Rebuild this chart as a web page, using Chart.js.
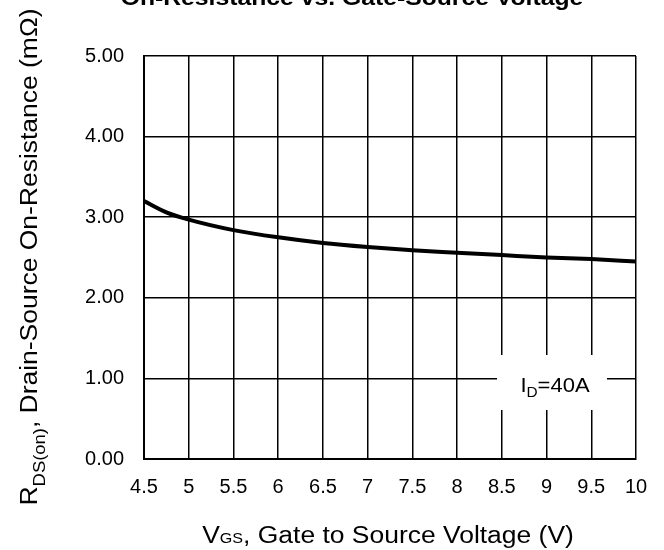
<!DOCTYPE html>
<html>
<head>
<meta charset="utf-8">
<script src="https://cdn.jsdelivr.net/npm/chart.js@4"></script>
<style>
  html, body { margin: 0; padding: 0; background: #fff; }
  canvas { display: block; }
</style>
</head>
<body>
<canvas id="rds-chart" width="664" height="550"></canvas>
<script>
// values
const vgsValues = [4.5, 4.75, 5, 5.5, 6, 6.5, 7, 7.5, 8, 8.5, 9, 9.5, 10];
const rdsValues = [3.20, 3.06, 2.97, 2.84, 2.75, 2.68, 2.63, 2.59, 2.56, 2.53, 2.50, 2.48, 2.45];
const xTickLabels = ['4.5', '5', '5.5', '6', '6.5', '7', '7.5', '8', '8.5', '9', '9.5', '10'];
const yTickLabels = ['0.00', '1.00', '2.00', '3.00', '4.00', '5.00'];

const FONT = 'Arial, "Liberation Sans", sans-serif';

// draws a list of [text, size, dy] runs centred on (0,0), stretched by sx
function drawRuns(ctx, runs, sx, weight) {
    weight = weight || '';
    let total = 0;
    runs.forEach(r => {
        ctx.font = weight + ' ' + r[1] + 'px ' + FONT;
        r.w = ctx.measureText(r[0]).width;
        total += r.w;
    });
    ctx.save();
    ctx.scale(sx, 1);
    let x = -total / 2;
    ctx.textAlign = 'left';
    ctx.textBaseline = 'alphabetic';
    runs.forEach(r => {
        ctx.font = weight + ' ' + r[1] + 'px ' + FONT;
        ctx.fillText(r[0], x, r[2]);
        x += r.w;
    });
    ctx.restore();
}

const labelsPlugin = {
    id: 'labels',
    beforeDatasetsDraw(chart) {
        const ctx = chart.ctx;
        // I_D box
        ctx.save();
        ctx.fillStyle = '#fff';
        ctx.fillRect(497, 355, 110, 55);
        ctx.fillStyle = '#000';
        ctx.translate(555, 392);
        drawRuns(ctx, [['I', 20, 0], ['D', 14, 5], ['=40A', 20, 0]], 1.1);
        ctx.restore();
    },
    afterDraw(chart) {
        const ctx = chart.ctx;
        ctx.save();
        ctx.fillStyle = '#000';
        // title (cut off at the top like the reference)
        ctx.save();
        ctx.translate(352, 5);
        drawRuns(ctx, [['On-Resistance vs. Gate-Source Voltage', 21.5, 0]], 1.15, 'bold');
        ctx.restore();

        // x axis title
        ctx.save();
        ctx.translate(388, 543);
        drawRuns(ctx, [['V', 23, 0], ['GS', 14, 0], [', Gate to Source Voltage (V)', 23, 0]], 1.15);
        ctx.restore();

        // y axis title
        ctx.save();
        ctx.translate(37, 257);
        ctx.rotate(-Math.PI / 2);
        drawRuns(ctx, [['R', 23, 0], ['DS(on)', 16, 8], [', Drain-Source On-Resistance (m\u03A9)', 23, 0]], 1.15);
        ctx.restore();
        ctx.restore();
    }
};

const ctxRds = document.getElementById('rds-chart').getContext('2d');
new Chart(ctxRds, {
    type: 'line',
    data: {
        datasets: [{
            data: vgsValues.map((v, i) => ({ x: v, y: rdsValues[i] })),
            borderColor: '#000',
            borderWidth: 4,
            pointRadius: 0,
            cubicInterpolationMode: 'monotone',
            fill: false
        }]
    },
    options: {
        responsive: false,
        animation: false,
        layout: { padding: { top: 56, right: 28, left: 0, bottom: 0 } },
        plugins: {
            legend: { display: false },
            tooltip: { enabled: false }
        },
        scales: {
            x: {
                type: 'linear',
                min: 4.5,
                max: 10,
                afterFit: s => { s.height = 91; },
                afterBuildTicks: s => { s.ticks = xTickLabels.map(t => ({ value: parseFloat(t) })); },
                ticks: {
                    callback: (v, i) => xTickLabels[i],
                    color: '#000',
                    font: { family: FONT, size: 20 },
                    padding: 16,
                    maxRotation: 0,
                    autoSkip: false
                },
                grid: { color: '#000', lineWidth: 1.5, drawTicks: false },
                border: { color: '#000', width: 2 }
            },
            y: {
                min: 0,
                max: 5,
                afterFit: s => { s.width = 144; },
                afterBuildTicks: s => { s.ticks = yTickLabels.map(t => ({ value: parseFloat(t) })); },
                ticks: {
                    callback: (v, i) => yTickLabels[i],
                    color: '#000',
                    font: { family: FONT, size: 20 },
                    padding: 20
                },
                grid: { color: '#000', lineWidth: 1.5, drawTicks: false },
                border: { color: '#000', width: 2 }
            }
        }
    },
    plugins: [labelsPlugin]
});
</script>
</body>
</html>
